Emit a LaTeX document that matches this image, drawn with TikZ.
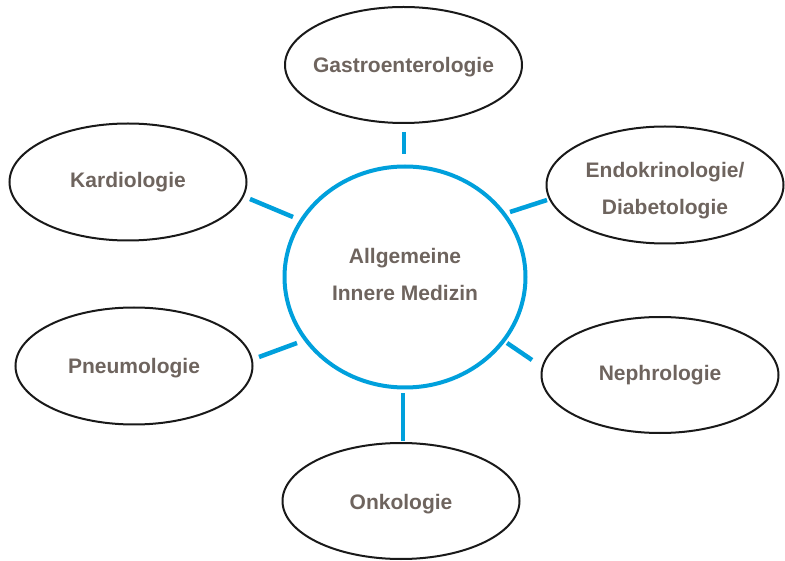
\documentclass[tikz,border=0pt]{standalone}
\usepackage{fontspec}
\setmainfont{Liberation Sans}
\usetikzlibrary{shapes.geometric}
\definecolor{blu}{RGB}{0,160,220}
\definecolor{txt}{RGB}{110,100,94}
\begin{document}
\begin{tikzpicture}[x=1pt,y=-1pt,
  lbl/.style={font=\fontsize{21}{37}\selectfont\bfseries, text=txt, align=center, inner sep=0pt},
  field/.style={ellipse, draw=black!90, line width=2pt, inner sep=0pt,
    minimum width=237pt, minimum height=116pt},
  hub/.style={ellipse, draw=blu, line width=4pt, inner sep=0pt,
    minimum width=241pt, minimum height=221pt},
  conn/.style={draw=blu, line width=4.5pt}]
\useasboundingbox (0,0) rectangle (785,561);
\node[hub, label={[lbl, yshift=3pt]center:Allgemeine\\Innere Medizin}] (center) at (405,277) {};
\node[field, label={[lbl, yshift=-2pt]center:Gastroenterologie}] (gastro) at (403.5,65) {};
\node[field, minimum height=117pt, label={[lbl]center:Kardiologie}] (kard) at (128,182) {};
\node[field, minimum height=117pt, label={[lbl, yshift=-6pt]center:Endokrinologie/\\Diabetologie}] (endo) at (665,185) {};
\node[field, minimum height=117pt, label={[lbl, yshift=-2pt]center:Pneumologie}] (pneumo) at (134,366) {};
\node[field, label={[lbl]center:Nephrologie}] (nephro) at (660,375) {};
\node[field, label={[lbl, yshift=-3pt]center:Onkologie}] (onko) at (401,501) {};
\coordinate (gastroA) at (404,132); \coordinate (gastroB) at (404,154);
\coordinate (kardA) at (250,199);   \coordinate (kardB) at (293,217);
\coordinate (endoA) at (547,200);   \coordinate (endoB) at (510,212);
\coordinate (pneumoA) at (259,357); \coordinate (pneumoB) at (297,343);
\coordinate (nephroA) at (532,360); \coordinate (nephroB) at (507,343);
\coordinate (onkoA) at (403,441);   \coordinate (onkoB) at (403,393);
\draw[conn] (gastroA) -- (gastroB);
\draw[conn] (kardA) -- (kardB);
\draw[conn] (endoA) -- (endoB);
\draw[conn] (pneumoA) -- (pneumoB);
\draw[conn] (nephroA) -- (nephroB);
\draw[conn] (onkoA) -- (onkoB);
\end{tikzpicture}
\end{document}
